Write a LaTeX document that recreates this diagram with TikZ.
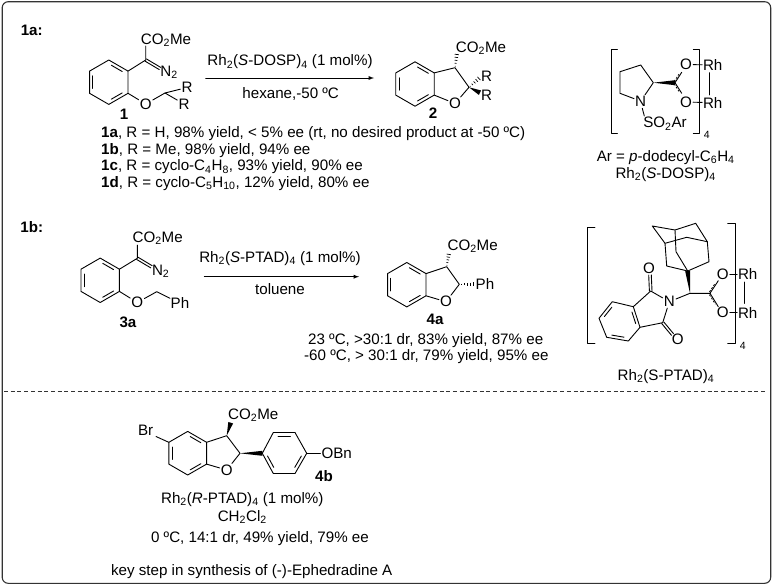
\documentclass[tikz,border=0pt]{standalone}
\usepackage{fontspec}
\setmainfont{Liberation Sans}
\usetikzlibrary{calc, positioning}
\tikzset{
    bond/.style={line width=0.9pt, line cap=round, line join=round},
    lab/.style={font=\fontsize{15.15}{17}\selectfont, inner sep=0pt, anchor=base},
    lableft/.style={lab, anchor=base west},
    atom/.style={font=\fontsize{15.15}{17}\selectfont, inner sep=1pt, anchor=center},
    cmpd/.style={font=\fontsize{15.15}{17}\selectfont\bfseries, inner sep=0pt, anchor=base},
    brsub/.style={font=\fontsize{10.5}{12}\selectfont, inner sep=0pt, anchor=base}
}
\newcommand{\ssub}[1]{\textsubscript{#1}}
% benzene ring, top vertex first, clockwise
\newcommand{\hexring}[3]{
    \foreach \i in {1,...,6} {
        \coordinate (#1\i) at ($(#2) + ({270+60*(\i-1)}:#3)$);
    }
    \coordinate (#1c) at (#2);
    \draw[bond] (#11) -- (#12) -- (#13) -- (#14) -- (#15) -- (#16) -- cycle;
    \inbond{#11}{#12}{#1c}
    \inbond{#13}{#14}{#1c}
    \inbond{#15}{#16}{#1c}
}
\newcommand{\inbond}[3]{
    \draw[bond] ($(#1)!.16!(#2)!.17!(#3)$) -- ($(#1)!.84!(#2)!.17!(#3)$);
}
\newcommand{\dblbond}[2]{
    \draw[bond] ($(#1)!1.3pt!90:(#2)$) -- ($(#2)!1.3pt!-90:(#1)$);
    \draw[bond] ($(#1)!1.3pt!-90:(#2)$) -- ($(#2)!1.3pt!90:(#1)$);
}
\newcommand{\partbond}[3]{
    \draw[bond] (#1) -- (#2);
    \draw[line width=0.8pt, dash pattern=on 2pt off 1.6pt] ($(#1)!.12!(#2)!.14!(#3)$) -- ($(#1)!.95!(#2)!.14!(#3)$);
}
\newcommand{\wedgebond}[3][2.5pt]{
    \fill (#2) -- ($(#3)!#1!90:(#2)$) -- ($(#3)!#1!-90:(#2)$) -- cycle;
}
\newcommand{\hashbond}[2]{
    \foreach \t/\w in {.10/.4, .30/.9, .50/1.3, .70/1.7, .90/2.1} {
        \coordinate (hp) at ($(#1)!\t!(#2)$);
        \draw[line width=0.7pt] ($(hp)!\w pt!90:(#2)$) -- ($(hp)!\w pt!-90:(#2)$);
    }
}
\begin{document}
\begin{tikzpicture}[x=1pt, y=-1pt]
    \useasboundingbox (0,0) rectangle (774,587);
    % --- frame and divider ---
    \draw[line width=1.1pt, draw=black!80, rounded corners=6pt] (2.2,1.7) rectangle (770.7,583.3);
    \draw[line width=0.9pt, draw=black!80, dash pattern=on 4pt off 2.7pt] (4,391.7) -- (766,391.7);

    % --- 1a ---
    \node[cmpd] (tag1a) at (31.7,35) {1a:};

    % diazo 1
    \hexring{ra}{108.8,82.2}{22.2}
    \coordinate (ca) at (145.7,60);
    \coordinate (cb) at (165,93);
    \node[lab] (esta) at (166,44) {CO\ssub{2}Me};
    \node[lab] (nna) at (169,76) {N\ssub{2}};
    \node[atom] (oa) at (145.7,104) {O};
    \node[atom] (rga) at (187,87.5) {R};
    \node[atom] (rgb) at (184,104) {R};
    \coordinate (cna) at (160,68.5);
    \coordinate (cea) at (145.7,46);
    \draw[bond] (ra2) -- (ca) -- (cea);
    \dblbond{ca}{cna}
    \draw[bond] (ra3) -- (oa) -- (cb) -- (rga);
    \draw[bond] (cb) -- (rgb);
    \node[cmpd] (cmp1) at (124,119.3) {1};

    % arrow 1a
    \coordinate (ar1s) at (205.7,78);
    \coordinate (ar1e) at (374,78);
    \draw[bond, -latex] (ar1s) -- (ar1e);
    \node[lab] (cat1) at (290,65.7) {Rh\ssub{2}(\textit{S}-DOSP)\ssub{4} (1 mol\%)};
    \node[lab] (cond1) at (290.7,98.3) {hexane,-50 ºC};

    % product 2
    \hexring{rb}{415,84}{22.2}
    \coordinate (cc) at (455,67.7);
    \coordinate (cd) at (469,87.3);
    \node[atom] (ob) at (455,103.5) {O};
    \node[lab] (estb) at (481,52.3) {CO\ssub{2}Me};
    \node[atom] (rgc) at (486.7,76) {R};
    \node[atom] (rgd) at (486.7,95.7) {R};
    \coordinate (ceb) at (457,53);
    \coordinate (crb1) at (480,77.5);
    \coordinate (crb2) at (480,92.7);
    \draw[bond] (rb2) -- (cc) -- (cd) -- (ob) -- (rb3);
    \hashbond{cc}{ceb}
    \hashbond{cd}{crb1}
    \wedgebond{cd}{crb2}
    \node[cmpd] (cmp2) at (433,118.3) {2};

    % yields
    \node[lableft] (l1) at (101,137.3) {\textbf{1a}, R = H, 98\% yield, < 5\% ee (rt, no desired product at -50 ºC)};
    \node[lableft] (l2) at (101,154.3) {\textbf{1b}, R = Me, 98\% yield, 94\% ee};
    \node[lableft] (l3) at (101,170.7) {\textbf{1c}, R = cyclo-C\ssub{4}H\ssub{8}, 93\% yield, 90\% ee};
    \node[lableft] (l4) at (101,187.3) {\textbf{1d}, R = cyclo-C\ssub{5}H\ssub{10}, 12\% yield, 80\% ee};

    % Rh2(S-DOSP)4
    \draw[bond] (617.3,49) -- (611.7,49) -- (611.7,133.3) -- (617.3,133.3);
    \draw[bond] (693.3,49) -- (699.3,49) -- (699.3,133.3) -- (693.3,133.3);
    \node[brsub] (brd) at (706.7,138.5) {4};
    \coordinate (pa) at (620,71.7);
    \coordinate (pb) at (640.7,65);
    \coordinate (pc) at (653.3,82.7);
    \coordinate (pe) at (620,93.3);
    \coordinate (pco) at (675,82.7);
    \coordinate (poa) at (681.7,72.3);
    \coordinate (pob) at (681.7,93.3);
    \coordinate (prc) at (664,82.7);
    \coordinate (rhbt) at (709,72.7);
    \coordinate (rhbb) at (709,95);
    \node[atom] (pn) at (640.7,101.2) {N};
    \node[atom] (po1) at (686,64.5) {O};
    \node[atom] (po2) at (686,102) {O};
    \node[atom, inner sep=0.6pt] (prh1) at (712.7,65) {Rh};
    \node[atom, inner sep=0.6pt] (prh2) at (712.7,102.7) {Rh};
    \node[lab] (pso) at (665,127.7) {SO\ssub{2}Ar};
    \draw[bond] (pn) -- (pe) -- (pa) -- (pb) -- (pc) -- (pn);
    \wedgebond{pc}{pco}
    \partbond{pco}{poa}{prc}
    \partbond{pco}{pob}{prc}
    \draw[bond] (po1) -- (prh1);
    \draw[bond] (po2) -- (prh2);
    \draw[bond] (rhbt) -- (rhbb);
    \draw[bond] (642.3,108.3) -- (644.3,116);
    \node[lab] (par) at (665.7,161.5) {Ar = \textit{p}-dodecyl-C\ssub{6}H\ssub{4}};
    \node[lab] (dosp) at (665.7,178.5) {Rh\ssub{2}(\textit{S}-DOSP)\ssub{4}};

    % --- 1b ---
    \node[cmpd] (tag1b) at (31.7,232) {1b:};

    % diazo 3a
    \hexring{rc}{100.2,280.3}{22.2}
    \coordinate (ce) at (137.3,258.3);
    \coordinate (cf) at (156.7,291.7);
    \node[lab] (estc) at (157.7,242.3) {CO\ssub{2}Me};
    \node[lab] (nnc) at (160.7,275.5) {N\ssub{2}};
    \node[atom] (oc) at (137.3,302.5) {O};
    \node[atom] (phc) at (180,302.7) {Ph};
    \coordinate (cnc) at (151.5,266.8);
    \coordinate (cec) at (137.3,245);
    \draw[bond] (rc2) -- (ce) -- (cec);
    \dblbond{ce}{cnc}
    \draw[bond] (rc3) -- (oc) -- (cf) -- (170,298.3);
    \node[cmpd] (cmp3) at (128,327) {3a};

    % arrow 1b
    \coordinate (ar2s) at (204.3,276.7);
    \coordinate (ar2e) at (359,276.7);
    \draw[bond, -latex] (ar2s) -- (ar2e);
    \node[lab] (cat2) at (280,262.3) {Rh\ssub{2}(\textit{S}-PTAD)\ssub{4} (1 mol\%)};
    \node[lab] (cond2) at (280,294.5) {toluene};

    % product 4a
    \hexring{rd}{406.8,284.7}{22.2}
    \coordinate (cg) at (446.7,266.7);
    \coordinate (ch) at (459.3,284.3);
    \coordinate (ced) at (449,253);
    \coordinate (cpd) at (475,284.3);
    \node[atom] (od) at (446,301.7) {O};
    \node[lab] (estd) at (472.7,250.5) {CO\ssub{2}Me};
    \node[atom] (phd) at (485,284.3) {Ph};
    \draw[bond] (rd2) -- (cg) -- (ch) -- (od) -- (rd3);
    \hashbond{cg}{ced}
    \hashbond{ch}{cpd}
    \node[cmpd] (cmp4) at (435,324.5) {4a};
    \node[lableft] (l5) at (308,344.7) {23 ºC, >30:1 dr, 83\% yield, 87\% ee};
    \node[lableft] (l6) at (304,360.3) {-60 ºC, > 30:1 dr, 79\% yield, 95\% ee};

    % Rh2(S-PTAD)4
    \draw[bond] (595,227.3) -- (587.3,227.3) -- (587.3,343.3) -- (595,343.3);
    \draw[bond] (727.7,223.3) -- (735.7,223.3) -- (735.7,343.3) -- (727.7,343.3);
    \node[brsub] (brp) at (742.7,349.5) {4};
    % adamantane
    \coordinate (ada) at (652.3,226);
    \coordinate (adb) at (675,230);
    \coordinate (adc) at (695.7,223.3);
    \coordinate (add) at (707.3,241.7);
    \coordinate (ade) at (709,261.7);
    \coordinate (adf) at (687.7,271);
    \coordinate (adg) at (666.7,266);
    \coordinate (adh) at (665,243.3);
    \coordinate (adi) at (686.7,237.3);
    \coordinate (adj) at (676,251.7);
    \draw[bond] (ada) -- (adb) -- (adc) -- (add) -- (ade) -- (adf) -- (adg) -- (adh) -- cycle;
    \draw[bond] (adh) -- (adi) -- (add);
    \draw[bond] (adb) -- (adj) -- (adf);
    % amino acid part
    \coordinate (qa) at (690,293.3);
    \coordinate (qc) at (710,293.3);
    \coordinate (qoa) at (718.3,280.7);
    \coordinate (qob) at (718.3,306.7);
    \coordinate (qin) at (700,293.3);
    \coordinate (rhct) at (744,282);
    \coordinate (rhcb) at (744,303.5);
    \wedgebond{qa}{adf}
    \node[atom] (qn) at (669.3,301.7) {N};
    \node[atom] (qo1) at (722.7,274.5) {O};
    \node[atom] (qo2) at (722.7,312.7) {O};
    \node[atom, inner sep=0.6pt] (qrh1) at (747.7,274.5) {Rh};
    \node[atom, inner sep=0.6pt] (qrh2) at (747.7,312.7) {Rh};
    \draw[bond] (qn) -- (qa) -- (qc);
    \partbond{qc}{qoa}{qin}
    \partbond{qc}{qob}{qin}
    \draw[bond] (qo1) -- (qrh1);
    \draw[bond] (qo2) -- (qrh2);
    \draw[bond] (rhct) -- (rhcb);
    % phthalimide
    \coordinate (fa) at (650.7,291);
    \coordinate (fb) at (662.7,322.7);
    \coordinate (fc) at (633.3,306.7);
    \coordinate (fd) at (640,327.3);
    \coordinate (fe) at (612.3,301.7);
    \coordinate (ff) at (599,318.3);
    \coordinate (fg) at (606.7,337.3);
    \coordinate (fh) at (628.3,341);
    \coordinate (fm) at (620,321.5);
    \coordinate (foa) at (650,275);
    \coordinate (fob) at (672.5,334.5);
    \node[atom] (fo1) at (649,268.3) {O};
    \node[atom] (fo2) at (677.7,339.3) {O};
    \draw[bond] (qn) -- (fa) -- (fc) -- (fe) -- (ff) -- (fg) -- (fh) -- (fd) -- (fb) -- (qn);
    \draw[bond] (fc) -- (fd);
    \inbond{fc}{fd}{fm}
    \inbond{fe}{ff}{fm}
    \inbond{fg}{fh}{fm}
    \dblbond{fa}{foa}
    \dblbond{fb}{fob}
    \node[lab] (ptad) at (666,380) {Rh\ssub{2}(S-PTAD)\ssub{4}};

    % --- 4b ---
    \hexring{re}{187.7,453.2}{21.8}
    \coordinate (ci) at (226.7,435.7);
    \coordinate (cj) at (240,453.3);
    \coordinate (cee) at (230.7,422.7);
    \coordinate (cbr) at (156,436.5);
    \node[lab] (brr) at (145.7,435) {Br};
    \node[lab] (este) at (253.3,419.5) {CO\ssub{2}Me};
    \node[atom] (oe) at (226.7,470) {O};
    \node[atom] (obn) at (336.7,453.3) {OBn};
    \node[cmpd] (cmp5) at (324,481) {4b};
    \draw[bond] (cbr) -- (re6);
    \draw[bond] (re2) -- (ci) -- (cj) -- (oe) -- (re3);
    \wedgebond{ci}{cee}
    % aryl
    \coordinate (sa) at (262.3,453.3);
    \coordinate (sb) at (273.3,432.5);
    \coordinate (sc) at (295,432.5);
    \coordinate (sd) at (306.7,453.3);
    \coordinate (se) at (295,473.5);
    \coordinate (sf) at (273.3,473.5);
    \coordinate (sm) at (284.5,453.3);
    \wedgebond{cj}{sa}
    \draw[bond] (sa) -- (sb) -- (sc) -- (sd) -- (se) -- (sf) -- cycle;
    \inbond{sb}{sc}{sm}
    \inbond{sd}{se}{sm}
    \inbond{sf}{sa}{sm}
    \draw[bond] (sd) -- (obn);
    \node[lab] (cat3) at (242.3,503.5) {Rh\ssub{2}(\textit{R}-PTAD)\ssub{4} (1 mol\%)};
    \node[lab] (solv) at (242.3,521) {CH\ssub{2}Cl\ssub{2}};
    \node[lab] (cond3) at (260,542) {0 ºC, 14:1 dr, 49\% yield, 79\% ee};
    \node[lab] (key) at (251.7,575.8) {key step in synthesis of (-)-Ephedradine A};
\end{tikzpicture}
\end{document}
